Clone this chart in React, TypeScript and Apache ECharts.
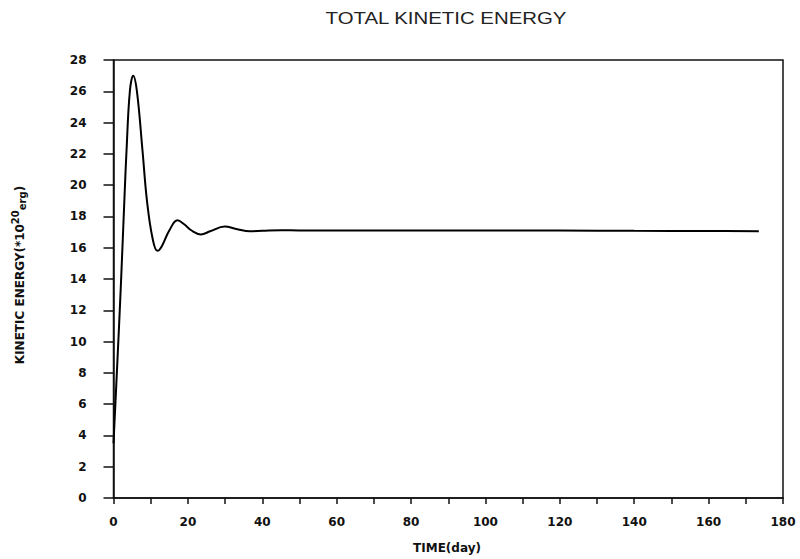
import React, { useEffect, useRef } from "react";
import * as echarts from "echarts";

const timeDays: number[] = [0, 1, 2, 3, 3.5, 4.4, 5.3, 6.3, 7.8, 9, 10.5, 11.8, 13, 15, 17.2, 19, 21, 23.5, 26, 29.9, 33, 36.7, 40, 45, 50, 60, 80, 100, 120, 140, 160, 173.5];
const kineticEnergy: number[] = [3.5, 8.5, 13.7, 19.5, 22.2, 26, 27.0, 26, 22.2, 19, 16.6, 15.8, 16.1, 17.1, 17.75, 17.5, 17.1, 16.85, 17.05, 17.35, 17.2, 17.05, 17.08, 17.12, 17.1, 17.1, 17.1, 17.1, 17.1, 17.08, 17.07, 17.05];

const FONT = "Liberation Sans, Arial, sans-serif";
const DFONT = "DejaVu Sans, sans-serif";

export default function App() {
  const ref = useRef<HTMLDivElement>(null);
  useEffect(() => {
    if (!ref.current) return;
    const chart = echarts.init(ref.current, null, { renderer: "svg" });
    const data = timeDays.map((t, i) => [t, kineticEnergy[i]]);
    chart.setOption({
      animation: false,
      backgroundColor: "#ffffff",
      grid: {
        left: 113.5,
        right: 17,
        top: 60,
        bottom: 61,
        show: true,
        borderColor: "#111",
        borderWidth: 1.5,
        backgroundColor: "transparent",
      },
      xAxis: {
        type: "value",
        min: 0,
        max: 180,
        interval: 10,
        axisLine: { show: true, lineStyle: { color: "#111", width: 1.5 } },
        axisTick: { show: true, length: 6, lineStyle: { color: "#111", width: 1.5 } },
        splitLine: { show: false },
        axisLabel: {
          color: "#111",
          fontFamily: DFONT,
          fontSize: 12,
          fontWeight: "bold",
          margin: 18,
          formatter: (v: number) => (v % 20 === 0 ? String(v) : ""),
        },
      },
      yAxis: {
        type: "value",
        min: 0,
        max: 28,
        interval: 2,
        axisLine: { show: true, lineStyle: { color: "#111", width: 1.5 } },
        axisTick: { show: true, length: 10, lineStyle: { color: "#111", width: 1.5 } },
        splitLine: { show: false },
        axisLabel: {
          color: "#111",
          fontFamily: DFONT,
          fontSize: 12,
          fontWeight: "bold",
          margin: 27,
        },
      },
      series: [
        {
          type: "line",
          data,
          smooth: 0.4,
          showSymbol: false,
          lineStyle: { color: "#000", width: 2 },
        },
      ],
      graphic: [
        {
          type: "text",
          x: 446,
          y: 18,
          scaleX: 1.2,
          style: {
            text: "TOTAL KINETIC ENERGY",
            fontFamily: FONT,
            fontSize: 17,
            fill: "#222",
            align: "center",
            verticalAlign: "middle",
          },
        },
        {
          type: "text",
          x: 447,
          y: 548,
          style: {
            text: "TIME(day)",
            fontFamily: DFONT,
            fontSize: 12,
            fontWeight: "bold",
            fill: "#111",
            align: "center",
            verticalAlign: "middle",
          },
        },
        {
          type: "text",
          x: 20,
          y: 275,
          rotation: Math.PI / 2,
          style: {
            text: "{n|KINETIC ENERGY(*10}{sup|20}{sub|erg}{n|)}",
            fontFamily: DFONT,
            fill: "#111",
            align: "center",
            verticalAlign: "middle",
            rich: {
              n: { fontSize: 12, fontWeight: "bold", fontFamily: DFONT, fill: "#111", verticalAlign: "middle" },
              sup: { fontSize: 10, fontWeight: "bold", fontFamily: DFONT, fill: "#111", padding: [0, 0, 9, 0], verticalAlign: "middle" },
              sub: { fontSize: 10, fontWeight: "bold", fontFamily: DFONT, fill: "#111", padding: [5, 0, 0, 0], verticalAlign: "middle" },
            },
          },
        },
      ],
    });
    return () => chart.dispose();
  }, []);
  return <div ref={ref} style={{ width: 800, height: 559, position: "absolute", left: 0, top: 0 }} />;
}
